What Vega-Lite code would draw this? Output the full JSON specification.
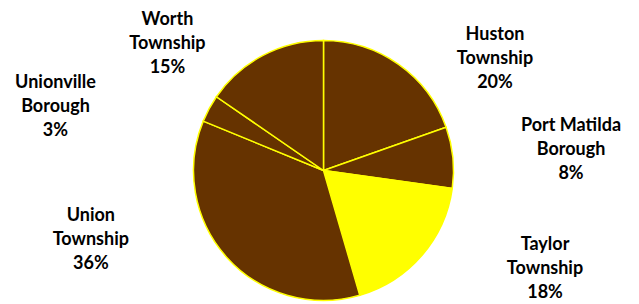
{
  "$schema": "https://vega.github.io/schema/vega-lite/v6.json",
  "width": 631,
  "height": 267,
  "padding": {"left": 8, "top": 37, "right": 0, "bottom": 0},
  "autosize": {"type": "none"},
  "background": "white",
  "config": {
    "view": {"stroke": null},
    "text": {"font": "Lato", "fontSize": 18, "fontWeight": "bold", "lineHeight": 24, "align": "center", "baseline": "middle", "color": "#000000", "lineBreak": "\n"}
  },
  "data": {
    "values": [
      {"name": "Huston Township", "label": "Huston\nTownship\n20%", "pct": 19.6},
      {"name": "Port Matilda Borough", "label": "Port Matilda\nBorough\n8%", "pct": 7.6},
      {"name": "Taylor Township", "label": "Taylor\nTownship\n18%", "pct": 18.3},
      {"name": "Union Township", "label": "Union\nTownship\n36%", "pct": 35.7},
      {"name": "Unionville Borough", "label": "Unionville\nBorough\n3%", "pct": 3.4},
      {"name": "Worth Township", "label": "Worth\nTownship\n15%", "pct": 15.4}
    ]
  },
  "layer": [
    {
      "mark": {"type": "arc", "radius": 130, "stroke": "#FFFF00", "strokeWidth": 1.5},
      "encoding": {
        "theta": {"field": "pct", "type": "quantitative", "stack": true},
        "color": {
          "field": "name", "type": "nominal", "legend": null,
          "scale": {
            "domain": ["Huston Township", "Port Matilda Borough", "Taylor Township", "Union Township", "Unionville Borough", "Worth Township"],
            "range": ["#663300", "#663300", "#FFFF00", "#663300", "#663300", "#663300"]
          }
        }
      }
    },
    {
      "mark": {"type": "text", "radius": 218.4, "thetaOffset": 0.2871},
      "encoding": {
        "theta": {"field": "pct", "type": "quantitative", "stack": true},
        "detail": {"field": "name", "type": "nominal"},
        "text": {"condition": {"test": "datum.name === 'Huston Township'", "field": "label"}, "value": ""}
      }
    },
    {
      "mark": {"type": "text", "radius": 251.5, "thetaOffset": -0.0782},
      "encoding": {
        "theta": {"field": "pct", "type": "quantitative", "stack": true},
        "detail": {"field": "name", "type": "nominal"},
        "text": {"condition": {"test": "datum.name === 'Port Matilda Borough'", "field": "label"}, "value": ""}
      }
    },
    {
      "mark": {"type": "text", "radius": 233.8, "thetaOffset": -0.3875},
      "encoding": {
        "theta": {"field": "pct", "type": "quantitative", "stack": true},
        "detail": {"field": "name", "type": "nominal"},
        "text": {"condition": {"test": "datum.name === 'Taylor Township'", "field": "label"}, "value": ""}
      }
    },
    {
      "mark": {"type": "text", "radius": 237.1, "thetaOffset": 0.5381},
      "encoding": {
        "theta": {"field": "pct", "type": "quantitative", "stack": true},
        "detail": {"field": "name", "type": "nominal"},
        "text": {"condition": {"test": "datum.name === 'Union Township'", "field": "label"}, "value": ""}
      }
    },
    {
      "mark": {"type": "text", "radius": 281.9, "thetaOffset": -0.1815},
      "encoding": {
        "theta": {"field": "pct", "type": "quantitative", "stack": true},
        "detail": {"field": "name", "type": "nominal"},
        "text": {"condition": {"test": "datum.name === 'Unionville Borough'", "field": "label"}, "value": ""}
      }
    },
    {
      "mark": {"type": "text", "radius": 216.8, "thetaOffset": -0.3196},
      "encoding": {
        "theta": {"field": "pct", "type": "quantitative", "stack": true},
        "detail": {"field": "name", "type": "nominal"},
        "text": {"condition": {"test": "datum.name === 'Worth Township'", "field": "label"}, "value": ""}
      }
    }
  ]
}
